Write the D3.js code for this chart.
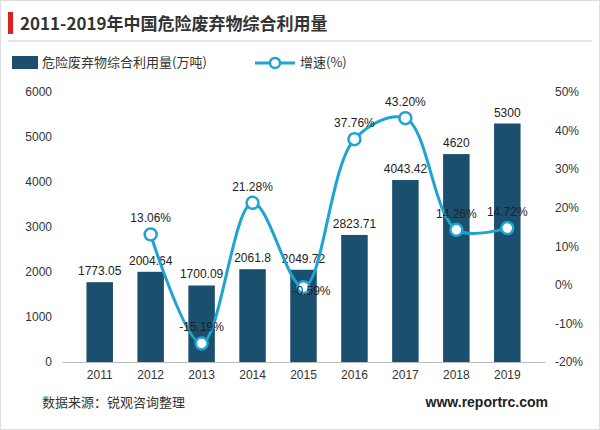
<!DOCTYPE html>
<html><head><meta charset="utf-8">
<script src="https://cdn.jsdelivr.net/npm/d3@7"></script>
<style>body{margin:0;background:#fff}text{font-family:"Noto Sans CJK SC","Noto Sans",sans-serif}</style>
</head><body><svg id="c" width="600" height="430"></svg>
<script>
var years = ['2011','2012','2013','2014','2015','2016','2017','2018','2019'];
var amounts = [1773.05,2004.64,1700.09,2061.8,2049.72,2823.71,4043.42,4620,5300];
var growth = [null,13.06,-15.19,21.28,-0.59,37.76,43.2,14.26,14.72];
var leftTicks = [0,1000,2000,3000,4000,5000,6000];
var rightTicks = [-20,-10,0,10,20,30,40,50];

var svg = d3.select('#c');
svg.append('rect').attr('x',0.5).attr('y',0.5).attr('width',599).attr('height',429).attr('fill','none').attr('stroke','#ddd');
svg.append('rect').attr('x',8).attr('y',12).attr('width',5).attr('height',22).attr('fill','#e02020');
svg.append('text').attr('x',20).attr('y',30).attr('font-size',17).attr('font-weight','bold').attr('fill','#333').text('2011-2019年中国危险废弃物综合利用量');
svg.append('line').attr('x1',8).attr('x2',592).attr('y1',41).attr('y2',41).attr('stroke','#ccc');

var x = d3.scaleBand().domain(years).range([62,545]).padding(0.48);
var yL = d3.scaleLinear().domain([0,6000]).range([362,92]);
var yR = d3.scaleLinear().domain([-20,50]).range([362,92]);
var barColor = '#1a4f6e', lineColor = '#1fa3d0';

// legend
svg.append('rect').attr('x',12).attr('y',56).attr('width',26).attr('height',13).attr('fill',barColor);
svg.append('text').attr('x',42).attr('y',67).attr('font-size',13).attr('fill','#333').text('危险废弃物综合利用量(万吨)');
svg.append('line').attr('x1',255).attr('x2',295).attr('y1',63).attr('y2',63).attr('stroke',lineColor).attr('stroke-width',3);
svg.append('circle').attr('cx',275).attr('cy',63).attr('r',5).attr('fill','#fff').attr('stroke',lineColor).attr('stroke-width',2.5);
svg.append('text').attr('x',300).attr('y',67).attr('font-size',13).attr('fill','#333').text('增速(%)');

var gL = svg.append('g').attr('transform','translate(62,0)')
  .call(d3.axisLeft(yL).tickValues(leftTicks).tickSize(0).tickPadding(10).tickFormat(d3.format('d')));
gL.select('.domain').remove();
var gR = svg.append('g').attr('transform','translate(545,0)')
  .call(d3.axisRight(yR).tickValues(rightTicks).tickSize(0).tickPadding(10).tickFormat(function(d){return d+'%';}));
gR.select('.domain').remove();
var gX = svg.append('g').attr('transform','translate(0,362)')
  .call(d3.axisBottom(x).tickSize(0).tickPadding(8));
gX.select('.domain').attr('stroke','#bbb');
svg.selectAll('.tick text').attr('font-size',12).attr('fill','#333').style('font-family','"Liberation Sans",sans-serif');

svg.selectAll('.bar').data(amounts).enter().append('rect')
  .attr('x',function(d,i){return x(years[i]);}).attr('width',x.bandwidth())
  .attr('y',function(d){return yL(d);}).attr('height',function(d){return 362-yL(d);})
  .attr('fill',barColor);
svg.selectAll('.bl').data(amounts).enter().append('text')
  .attr('x',function(d,i){return x(years[i])+x.bandwidth()/2;})
  .attr('y',function(d){return yL(d)-7;}).attr('text-anchor','middle')
  .attr('font-size',12).attr('fill','#222').style('font-family','"Liberation Sans",sans-serif')
  .text(function(d){return d;});

var pts = growth.map(function(g,i){return g==null?null:[x(years[i])+x.bandwidth()/2,yR(g),g];}).filter(Boolean);
svg.append('path').attr('d',d3.line().curve(d3.curveCatmullRom)(pts))
  .attr('fill','none').attr('stroke',lineColor).attr('stroke-width',3);
svg.selectAll('.pt').data(pts).enter().append('circle')
  .attr('cx',function(d){return d[0];}).attr('cy',function(d){return d[1];}).attr('r',6)
  .attr('fill','#fff').attr('stroke',lineColor).attr('stroke-width',2.5);
svg.selectAll('.pl').data(pts).enter().append('text')
  .attr('x',function(d){return d[2]===-0.59 ? d[0]+8 : d[0];})
  .attr('y',function(d){return d[2]===-0.59 ? d[1]+8 : d[1]-12;})
  .attr('text-anchor','middle').attr('font-size',12).attr('fill','#222').style('font-family','"Liberation Sans",sans-serif')
  .text(function(d){return d[2].toFixed(2)+'%';});

svg.append('text').attr('x',42).attr('y',407).attr('font-size',13).attr('fill','#333').text('数据来源：锐观咨询整理');
svg.append('text').attr('x',548).attr('y',407).attr('text-anchor','end').attr('font-size',14).attr('font-weight','bold').attr('fill','#222').style('font-family','"Liberation Sans",sans-serif').text('www.reportrc.com');
</script></body></html>
